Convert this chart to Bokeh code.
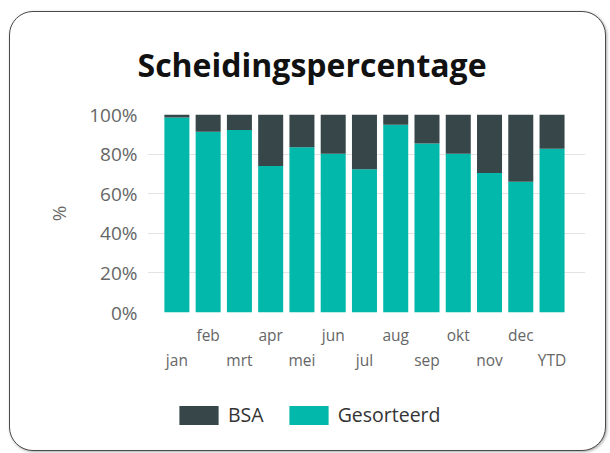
from bokeh.plotting import figure
from bokeh.layouts import column
from bokeh.models import (LinearAxis, FixedTicker, NumeralTickFormatter, Range1d,
                          Legend, LegendItem, ColumnDataSource, Title)
from bokeh.embed import file_html
from bokeh.resources import INLINE

months = ["jan", "feb", "mrt", "apr", "mei", "jun", "jul", "aug", "sep", "okt", "nov", "dec", "YTD"]
gesorteerd = [0.985, 0.913, 0.922, 0.740, 0.835, 0.802, 0.723, 0.948, 0.854, 0.802, 0.704, 0.660, 0.827]
bsa = [0.015, 0.087, 0.078, 0.260, 0.165, 0.198, 0.277, 0.052, 0.146, 0.198, 0.296, 0.340, 0.173]
y_ticks = [0, 0.2, 0.4, 0.6, 0.8, 1.0]
series = ["BSA", "Gesorteerd"]

TEAL = "#01B8AA"
DARK = "#374649"
FONT = "Open Sans"

src = ColumnDataSource(dict(x=list(range(len(months))), Gesorteerd=gesorteerd, BSA=bsa))

p = figure(width=595, height=375, frame_width=438, frame_height=198,
           output_backend="svg", toolbar_location=None,
           x_range=Range1d(-0.94, 13.07), y_range=Range1d(0, 1),
           x_axis_location=None, y_axis_location=None,
           min_border_left=137, min_border_right=20, min_border_top=101, min_border_bottom=76)
p.border_fill_color = None
p.background_fill_color = "white"
p.outline_line_color = None

t = Title(text="Scheidingspercentage", align="left", offset=-10, text_font=FONT,
          text_font_size="32px", text_font_style="bold", text_color="#111111", standoff=57)
p.add_layout(t, "above")

r = p.vbar_stack(["Gesorteerd", "BSA"], x="x", width=0.8, source=src,
                 color=[TEAL, DARK], line_color=None)

yax = LinearAxis(ticker=FixedTicker(ticks=y_ticks), formatter=NumeralTickFormatter(format="0%"))
yax.axis_line_color = None
yax.major_tick_line_color = None
yax.minor_tick_line_color = None
yax.major_label_text_font = FONT
yax.major_label_text_font_size = "19px"
yax.major_label_text_color = "#666666"
yax.major_label_standoff = 4
yax.axis_label = "%"
yax.axis_label_text_font = FONT
yax.axis_label_text_font_size = "19px"
yax.axis_label_text_font_style = "normal"
yax.axis_label_text_color = "#666666"
yax.axis_label_standoff = 14
p.add_layout(yax, "left")

p.ygrid.grid_line_color = "#e3e3e3"
p.ygrid.ticker = FixedTicker(ticks=y_ticks)
p.xgrid.grid_line_color = None

odd = list(range(1, len(months), 2))
even = list(range(0, len(months), 2))
ax1 = LinearAxis(ticker=FixedTicker(ticks=odd),
                 major_label_overrides={i: months[i] for i in odd})
ax2 = LinearAxis(ticker=FixedTicker(ticks=even),
                 major_label_overrides={i: months[i] for i in even})
for ax, so in ((ax1, 5), (ax2, -6)):
    ax.axis_line_color = None
    ax.major_tick_line_color = None
    ax.minor_tick_line_color = None
    ax.major_label_text_font = FONT
    ax.major_label_text_font_size = "15.5px"
    ax.major_label_text_color = "#666666"
    ax.major_label_standoff = so
    p.add_layout(ax, "below")

# legend strip (same series, drawn off-view so only the legend shows)
pl = figure(width=595, height=62, output_backend="svg", toolbar_location=None,
            x_range=Range1d(-30, -29), y_range=Range1d(10, 11),
            x_axis_location=None, y_axis_location=None,
            min_border_left=0, min_border_right=0, min_border_top=0, min_border_bottom=0)
pl.border_fill_color = None
pl.background_fill_color = None
pl.outline_line_color = None
pl.grid.visible = False
lr = pl.vbar_stack(["Gesorteerd", "BSA"], x="x", width=0.8, source=src,
                   color=[TEAL, DARK], line_color=None)

legend = Legend(items=[LegendItem(label=series[0], renderers=[lr[1]]),
                       LegendItem(label=series[1], renderers=[lr[0]])],
                orientation="horizontal", location=(27, 22),
                glyph_width=49, glyph_height=24, spacing=20, label_standoff=5,
                label_text_font=FONT, label_text_font_size="19.5px", label_text_color="#333333",
                border_line_color=None, background_fill_alpha=0, margin=0, padding=0)
pl.add_layout(legend, "center")

layout = column(p, pl, spacing=0)
layout.styles = {"border": "1.5px solid #4a4a4a", "border-radius": "24px",
                 "box-shadow": "1px 1px 3px rgba(0,0,0,0.35)",
                 "margin-left": "9px", "margin-top": "11px", "background": "white"}

open("out.html", "w").write(file_html(layout, INLINE))
